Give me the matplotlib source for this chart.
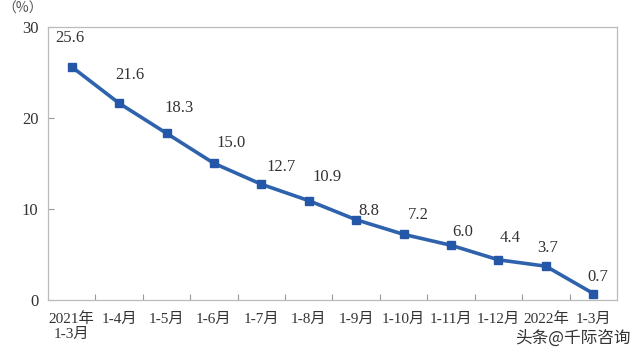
import matplotlib
matplotlib.use("Agg")
import matplotlib.pyplot as plt
import numpy as np

categories = ["2021年\n1-3月", "1-4月", "1-5月", "1-6月", "1-7月", "1-8月",
              "1-9月", "1-10月", "1-11月", "1-12月", "2022年", "1-3月"]
values = [25.6, 21.6, 18.3, 15.0, 12.7, 10.9, 8.8, 7.2, 6.0, 4.4, 3.7, 0.7]
yticks = [0, 10, 20, 30]

# label offsets (pixels) relative to each point -- layout only
label_dx = [-2, 11, 13, 17, 20, 18, 13, 15, 12, 12, 2, 5]
label_dy = [29, 28, 25, 20, 17, 24, 9, 19, 13, 22, 18, 17]

FONT = ["Liberation Serif", "Noto Sans CJK SC", "DejaVu Sans"]
plt.rcParams["font.family"] = FONT
TXT = "#333333"
LINE = "#2f62ad"

fig = plt.figure(figsize=(6.4, 3.57), dpi=100)
ax = fig.add_axes([0.075, 0.160, 0.889, 0.765])

x = np.arange(len(values))
ax.plot(x, values, color=LINE, lw=2.6, marker="s", ms=5.5,
        mfc="#2557a8", mec="#2557a8", zorder=3)

for xi, v, dx, dy in zip(x, values, label_dx, label_dy):
    ax.annotate(f"{v:.1f}", (xi, v), xytext=(dx * 0.72, dy * 0.72),
                textcoords="offset points", ha="center", va="center",
                fontsize=12, color=TXT)

ax.set_xlim(-0.5, len(values) - 0.5)
ax.set_ylim(0, 30)
ax.set_yticks(yticks)
ax.set_yticklabels([str(t) for t in yticks], fontsize=12, color=TXT)

ax.set_xticks(x)
ax.set_xticklabels(categories, fontsize=11, color=TXT, linespacing=1.15)
ax.set_xticks(np.arange(len(values) - 1) + 0.5, minor=True)
ax.tick_params(axis="x", which="major", length=0, pad=9)
ax.tick_params(axis="x", which="minor", direction="in", length=4,
               color="#999999", width=0.8)
ax.tick_params(axis="y", direction="in", length=4, color="#999999",
               width=0.8, pad=7)

for s in ax.spines.values():
    s.set_color("#bbbbbb")
    s.set_linewidth(0.9)

fig.text(0.004, 0.995, "（%）", fontsize=10, color="#555555",
         ha="left", va="top", family=["Noto Sans CJK SC", "DejaVu Sans"])
fig.text(0.985, 0.053, "头条@千际咨询", fontsize=12, color="#333333",
         ha="right", va="center", family=["Noto Sans CJK SC", "DejaVu Sans"])

fig.savefig("out.png", dpi=100)
